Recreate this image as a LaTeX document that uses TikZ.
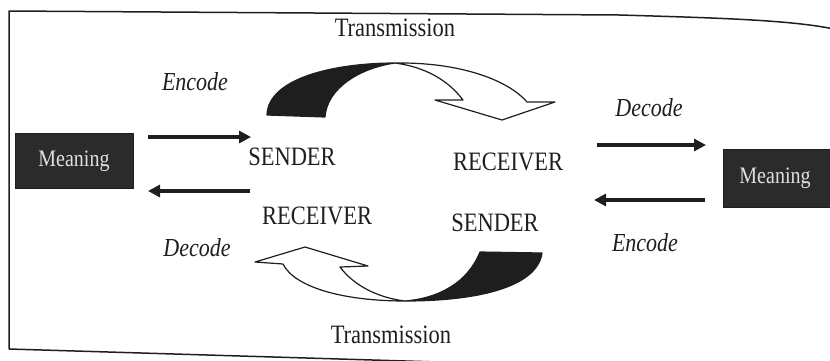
\documentclass[tikz,border=0pt]{standalone}
\usepackage{fontspec}
\setmainfont{Liberation Serif}
\usetikzlibrary{arrows.meta}
\definecolor{ink}{HTML}{1E1E1E}
\definecolor{boxfill}{HTML}{2B2B2B}
% slightly tall lettering
\newcommand{\tallset}[1]{\scalebox{1}[1.18]{#1}}
\begin{document}
\begin{tikzpicture}[x=1pt,y=-1pt,
  lbl/.style={font=\fontsize{22.5}{26}\selectfont, text=ink, inner sep=0pt},
  act/.style={font=\fontsize{22}{26}\selectfont\itshape, text=ink, inner sep=0pt},
  meaningbox/.style={fill=boxfill, draw=ink, text=white!88!black,
    font=\fontsize{20}{24}\selectfont, inner sep=0pt},
  flow/.style={draw=ink, line width=3.6pt, -{Triangle[length=12pt,width=12pt]}},
  ribbon/.style={draw=ink, line width=1.2pt, line join=round}]
\useasboundingbox (0,0) rectangle (830,360);

% page frame
\draw[ink, line width=1.5pt] (9,349) -- (9,11) -- (620,15)
  .. controls (720,18) and (790,20) .. (834,29);
\draw[ink, line width=1.5pt] (9,349) -- (835,374);

% meaning boxes
\node[meaningbox, minimum width=118pt, minimum height=55pt] (mL) at (74,161) {\tallset{Meaning}};
\node[meaningbox, minimum width=112pt, minimum height=58pt, text width=112pt, align=center] (mR) at (779,178) {\hspace*{-8pt}\tallset{Meaning}};

% labels
\node[lbl] (tx1) at (395,28) {\tallset{Transmission}};
\node[act] (enc1) at (195,82) {\tallset{Encode}};
\node[lbl] (snd1) at (292,157) {\tallset{SENDER}};
\node[lbl] (rcv1) at (508,162) {\tallset{RECEIVER}};
\node[lbl] (rcv2) at (317,216) {\tallset{RECEIVER}};
\node[lbl] (snd2) at (495,223) {\tallset{SENDER}};
\node[act] (dec1) at (649,108) {\tallset{Decode}};
\node[act] (enc2) at (645,243) {\tallset{Encode}};
\node[act] (dec2) at (197,248) {\tallset{Decode}};
\node[lbl] (tx2) at (391,335) {\tallset{Transmission}};

% arrow ends
\coordinate (aL1s) at (148,137);
\coordinate (aL1e) at (251,137);
\coordinate (aL2s) at (250,191);
\coordinate (aL2e) at (148,191);
\coordinate (aR1s) at (597,145);
\coordinate (aR1e) at (706,145);
\coordinate (aR2s) at (705,200);
\coordinate (aR2e) at (594,200);

\draw[flow] (aL1s) -- (aL1e);
\draw[flow] (aL2s) -- (aL2e);
\draw[flow] (aR1s) -- (aR1e);
\draw[flow] (aR2s) -- (aR2e);

% upper twisted arrow: dark back face, white front face with head
\filldraw[ink, ribbon] (267,115) .. controls (268,78) and (335,63) .. (395,63)
  .. controls (360,68) and (327,88) .. (325,117) -- cycle;
\draw[ribbon, fill=white] (395,63) .. controls (460,62) and (508,80) .. (527,102)
  -- (555,102) -- (502,120) -- (435,100) -- (463,100)
  .. controls (448,80) and (425,67) .. (395,63) -- cycle;

% lower twisted arrow
\filldraw[ink, ribbon] (405,301) .. controls (475,301) and (537,288) .. (542,253)
  -- (480,252) .. controls (468,282) and (440,298) .. (405,301) -- cycle;
\draw[ribbon, fill=white] (405,301) .. controls (345,301) and (295,288) .. (283,264)
  -- (255,262) -- (305,247) -- (368,266) -- (340,267)
  .. controls (355,287) and (380,298) .. (405,301) -- cycle;
\end{tikzpicture}
\end{document}
